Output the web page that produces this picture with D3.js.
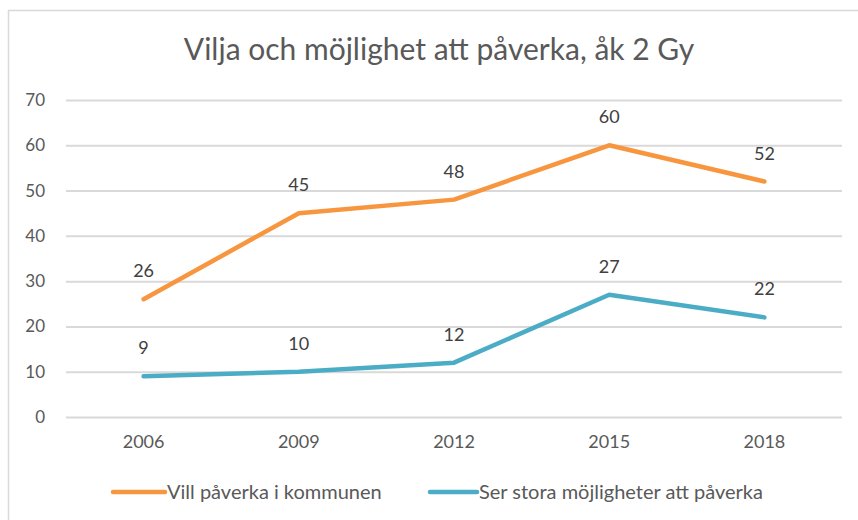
<!DOCTYPE html>
<html>
<head>
<meta charset="utf-8">
<script src="https://cdn.jsdelivr.net/npm/d3@7"></script>
<style>
  html, body { margin: 0; padding: 0; background: #fff; }
  svg { display: block; }
</style>
</head>
<body>
<svg id="chart" width="858" height="520"></svg>
<script>
const title = "Vilja och möjlighet att påverka, åk 2 Gy";
const years = ["2006", "2009", "2012", "2015", "2018"];
const seriesNames = ["Vill påverka i kommunen", "Ser stora möjligheter att påverka"];
const villPaverka = [26, 45, 48, 60, 52];
const serStora = [9, 10, 12, 27, 22];
const yTicks = [0, 10, 20, 30, 40, 50, 60, 70];
const colors = ["#F7963E", "#4BACC6"];

const FONT = "Lato, 'Open Sans', sans-serif";
const textColor = "#595959";

const svg = d3.select("#chart");
const W = 858, H = 520;
const margin = { left: 66, right: 16, top: 100, bottom: 103 };

// chart area border
svg.append("path")
  .attr("d", `M8.5,${H + 5} V10.5 H${W + 5}`)
  .attr("fill", "none")
  .attr("stroke", "#d9d9d9")
  .attr("stroke-width", 1.5);

const x = d3.scaleBand()
  .domain(years)
  .range([margin.left, W - margin.right]);

const y = d3.scaleLinear()
  .domain([0, 70])
  .range([H - margin.bottom, margin.top]);

// gridlines
const yAxis = d3.axisLeft(y)
  .tickValues(yTicks)
  .tickSize(-(W - margin.right - margin.left))
  .tickPadding(21);

const gy = svg.append("g")
  .attr("transform", `translate(${margin.left},0)`)
  .call(yAxis);
gy.select(".domain").remove();
gy.selectAll(".tick line").attr("stroke", "#d9d9d9").attr("stroke-width", 2);
gy.selectAll(".tick text")
  .attr("fill", textColor)
  .style("font-family", FONT)
  .style("font-size", "17px");

// x axis labels
const xAxis = d3.axisBottom(x).tickSize(0).tickPadding(18);
const gx = svg.append("g")
  .attr("transform", `translate(0,${H - margin.bottom})`)
  .call(xAxis);
gx.select(".domain").remove();
gx.selectAll(".tick text")
  .attr("fill", textColor)
  .style("font-family", FONT)
  .style("font-size", "18px");

// title
svg.append("text")
  .attr("x", 439)
  .attr("y", 60)
  .attr("text-anchor", "middle")
  .attr("fill", textColor)
  .style("font-family", FONT)
  .style("font-size", "30px")
  .text(title);

const series = [villPaverka, serStora];
const line = d3.line()
  .x((d, i) => x(years[i]) + x.bandwidth() / 2)
  .y(d => y(d));

series.forEach((vals, si) => {
  svg.append("path")
    .datum(vals)
    .attr("d", line)
    .attr("fill", "none")
    .attr("stroke", colors[si])
    .attr("stroke-width", 4.5)
    .attr("stroke-linecap", "round")
    .attr("stroke-linejoin", "round");

  svg.append("g").selectAll("text")
    .data(vals)
    .join("text")
    .attr("x", (d, i) => x(years[i]) + x.bandwidth() / 2)
    .attr("y", d => y(d) - 22)
    .attr("text-anchor", "middle")
    .attr("fill", "#404040")
    .style("font-family", FONT)
    .style("font-size", "18px")
    .text(d => d);
});

// legend
const legendItems = [
  { name: seriesNames[0], color: colors[0], x1: 113, x2: 165 },
  { name: seriesNames[1], color: colors[1], x1: 430, x2: 477 }
];
const ly = 492;
legendItems.forEach(it => {
  svg.append("line")
    .attr("x1", it.x1).attr("x2", it.x2)
    .attr("y1", ly).attr("y2", ly)
    .attr("stroke", it.color)
    .attr("stroke-width", 4.5)
    .attr("stroke-linecap", "round");
  svg.append("text")
    .attr("x", it.x2 + 2)
    .attr("y", ly + 7)
    .attr("fill", textColor)
    .style("font-family", FONT)
    .style("font-size", "20px")
    .text(it.name);
});
</script>
</body>
</html>
